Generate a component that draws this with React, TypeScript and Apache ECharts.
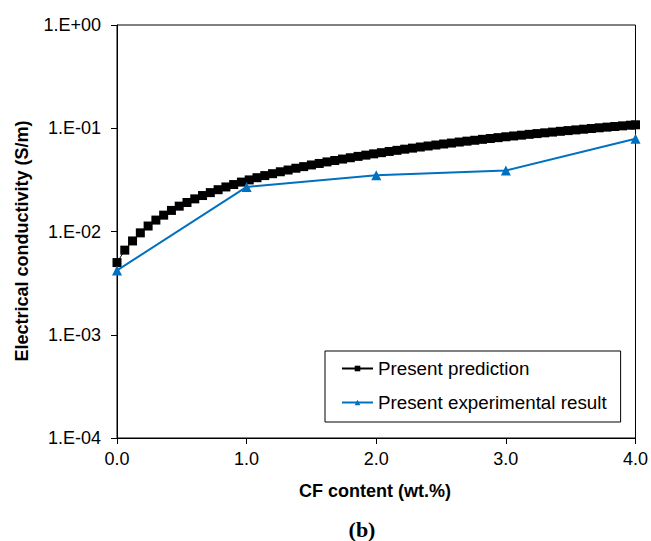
import React, { useEffect, useRef } from "react";
import * as echarts from "echarts";

const predX = [
  0.0, 0.06, 0.12, 0.18, 0.24, 0.3, 0.36, 0.42, 0.48, 0.54, 0.6, 0.66, 0.72, 0.78, 0.84, 0.9, 0.96,
  1.02, 1.08, 1.14, 1.2, 1.26, 1.32, 1.38, 1.44, 1.5, 1.56, 1.62, 1.68, 1.74, 1.8, 1.86, 1.92, 1.98,
  2.04, 2.1, 2.16, 2.22, 2.28, 2.34, 2.4, 2.46, 2.52, 2.58, 2.64, 2.7, 2.76, 2.82, 2.88, 2.94, 3.0,
  3.06, 3.12, 3.18, 3.24, 3.3, 3.36, 3.42, 3.48, 3.54, 3.6, 3.66, 3.72, 3.78, 3.84, 3.9, 3.96, 4.0,
];
const predY = [
  0.005, 0.0066, 0.0081, 0.0097, 0.0113, 0.0129, 0.0144, 0.016, 0.0176, 0.0191, 0.0207, 0.0223,
  0.0238, 0.0254, 0.027, 0.0285, 0.0301, 0.0316, 0.0332, 0.0348, 0.0363, 0.0379, 0.0394, 0.041,
  0.0425, 0.0441, 0.0456, 0.0472, 0.0487, 0.0503, 0.0518, 0.0534, 0.0549, 0.0565, 0.058, 0.0596,
  0.0611, 0.0627, 0.0642, 0.0658, 0.0673, 0.0688, 0.0704, 0.0719, 0.0735, 0.075, 0.0765, 0.0781,
  0.0796, 0.0811, 0.0827, 0.0842, 0.0857, 0.0873, 0.0888, 0.0903, 0.0918, 0.0934, 0.0949, 0.0964,
  0.0979, 0.0995, 0.101, 0.1025, 0.104, 0.1055, 0.107, 0.108,
];
const expX = [0, 1, 2, 3, 4];
const expY = [0.0042, 0.027, 0.035, 0.039, 0.079];

const seriesNames = ["Present prediction", "Present experimental result"];
const xAxisTitle = "CF content (wt.%)";
const yAxisTitle = "Electrical conductivity (S/m)";
const panelLabel = "(b)";

const FONT = "'Liberation Sans', Arial, Helvetica, sans-serif";

export default function App() {
  const ref = useRef<HTMLDivElement>(null);
  useEffect(() => {
    if (!ref.current) return;
    const chart = echarts.init(ref.current, null, { renderer: "svg" });
    const fmtY = (v: number) => {
      const e = Math.round(Math.log10(v));
      return "1.E" + (e >= 0 ? "+" : "-") + String(Math.abs(e)).padStart(2, "0");
    };
    chart.setOption({
      animation: false,
      backgroundColor: "#fff",
      grid: {
        left: 117,
        right: 11,
        top: 25,
        bottom: 103,
        show: true,
        borderColor: "#000",
        borderWidth: 1,
      },
      xAxis: {
        type: "value",
        min: 0,
        max: 4,
        interval: 1,
        axisLine: { lineStyle: { color: "#000", width: 1 } },
        axisTick: { show: true, length: 6, lineStyle: { color: "#000" } },
        splitLine: { show: false },
        axisLabel: {
          margin: 12,
          fontSize: 18,
          fontFamily: FONT,
          color: "#000",
          formatter: (v: number) => v.toFixed(1),
        },
      },
      yAxis: {
        type: "log",
        logBase: 10,
        min: 1e-4,
        max: 1,
        axisLine: { show: true, lineStyle: { color: "#000", width: 1 } },
        axisTick: { show: true, length: 6, lineStyle: { color: "#000" } },
        splitLine: { show: false },
        minorTick: { show: false },
        axisLabel: {
          margin: 16,
          fontSize: 18,
          fontFamily: FONT,
          color: "#000",
          formatter: fmtY,
        },
      },
      legend: {
        left: 325,
        top: 351,
        orient: "vertical",
        borderColor: "#000",
        borderWidth: 1,
        padding: [8, 14, 10, 16],
        itemGap: 15,
        itemWidth: 31,
        itemHeight: 7,
        textStyle: { fontSize: 18.8, fontFamily: FONT, color: "#000" },
        data: seriesNames,
      },
      series: [
        {
          name: seriesNames[0],
          type: "line",
          data: predX.map((x, i) => [x, predY[i]]),
          symbol: "rect",
          symbolSize: 9,
          lineStyle: { color: "#000", width: 1 },
          itemStyle: { color: "#000" },
          z: 2,
        },
        {
          name: seriesNames[1],
          type: "line",
          data: expX.map((x, i) => [x, expY[i]]),
          symbol: "triangle",
          symbolSize: 10,
          lineStyle: { color: "#0070C0", width: 2 },
          itemStyle: { color: "#0070C0" },
          z: 3,
        },
      ],
      graphic: [
        {
          type: "text",
          x: 375,
          y: 491,
          style: {
            text: xAxisTitle,
            fontSize: 18,
            fontWeight: "bold",
            fontFamily: FONT,
            fill: "#000",
            align: "center",
            verticalAlign: "middle",
          },
        },
        {
          type: "text",
          x: 22,
          y: 241,
          rotation: Math.PI / 2,
          style: {
            text: yAxisTitle,
            fontSize: 18,
            fontWeight: "bold",
            fontFamily: FONT,
            fill: "#000",
            align: "center",
            verticalAlign: "middle",
          },
        },
        {
          type: "text",
          x: 362,
          y: 529,
          style: {
            text: panelLabel,
            fontSize: 22,
            fontWeight: "bold",
            fontFamily: "'Liberation Serif', 'Times New Roman', serif",
            fill: "#000",
            align: "center",
            verticalAlign: "middle",
          },
        },
      ],
    });
    return () => chart.dispose();
  }, []);
  return (
    <div
      ref={ref}
      style={{ position: "fixed", left: 0, top: 0, width: 651, height: 541, background: "#fff" }}
    />
  );
}
